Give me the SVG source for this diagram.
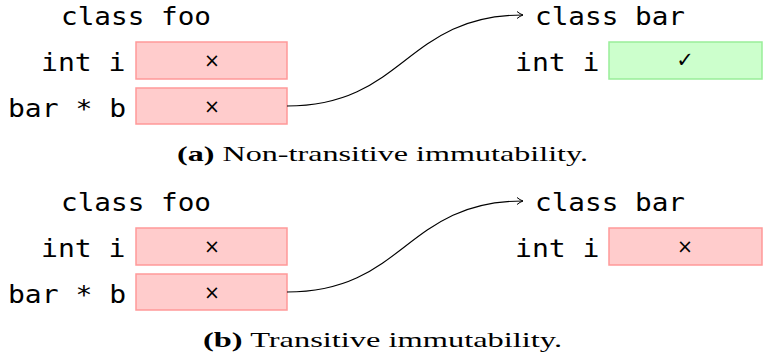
<svg xmlns="http://www.w3.org/2000/svg" width="764" height="364" viewBox="0 0 764 364">
<style>
.m{font-family:"DejaVu Sans Mono","Liberation Mono",monospace;font-size:24px;fill:#000}
.bad{fill:#ffcccc;stroke:#ff9999;stroke-width:1.5}
.ok{fill:#ccffcc;stroke:#99ee99;stroke-width:1.5}
.sym{font-family:"DejaVu Sans",sans-serif;font-size:19px;text-anchor:middle;fill:#000}
.chk{font-family:"DejaVu Sans",sans-serif;font-size:21px;text-anchor:middle;fill:#000}
.cap{font-family:"Liberation Serif","Times New Roman",serif;font-size:21px;fill:#000}
.conn{fill:none;stroke:#000;stroke-width:1.1}
</style>
<defs>
<marker id="ah" markerWidth="10" markerHeight="10" refX="7" refY="4" orient="auto" markerUnits="userSpaceOnUse">
<path d="M1,0.5 Q4,3 7,4 Q4,5 1,7.5" fill="none" stroke="#000" stroke-width="1"/>
</marker>
</defs>
<g id="panel-a">
<g id="a-foo">
<text class="m" x="61" y="25" textLength="150" lengthAdjust="spacingAndGlyphs">class foo</text>
<text class="m" x="41" y="71" textLength="84.5" lengthAdjust="spacingAndGlyphs">int i</text>
<rect class="bad" x="136" y="42" width="151" height="37"/>
<text class="sym" x="212" y="67">×</text>
<text class="m" x="8" y="117" textLength="118" lengthAdjust="spacingAndGlyphs">bar * b</text>
<rect class="bad" x="136" y="88" width="151" height="36"/>
<text class="sym" x="212" y="113">×</text>
</g>
<g id="a-bar">
<text class="m" x="535" y="25" textLength="150" lengthAdjust="spacingAndGlyphs">class bar</text>
<text class="m" x="515" y="71" textLength="84.5" lengthAdjust="spacingAndGlyphs">int i</text>
<rect class="ok" x="609" y="42" width="153" height="37"/>
<text class="chk" x="685" y="67">✓</text>
</g>
<text id="cap-a" class="cap" x="177" y="161" textLength="411" lengthAdjust="spacingAndGlyphs"><tspan font-weight="bold">(a)</tspan> Non-transitive immutability.</text>
</g>
<g id="panel-b">
<g id="b-foo">
<text class="m" x="61" y="211" textLength="150" lengthAdjust="spacingAndGlyphs">class foo</text>
<text class="m" x="41" y="257" textLength="84.5" lengthAdjust="spacingAndGlyphs">int i</text>
<rect class="bad" x="136" y="228" width="151" height="37"/>
<text class="sym" x="212" y="253">×</text>
<text class="m" x="8" y="303" textLength="118" lengthAdjust="spacingAndGlyphs">bar * b</text>
<rect class="bad" x="136" y="274" width="151" height="36"/>
<text class="sym" x="212" y="299">×</text>
</g>
<g id="b-bar">
<text class="m" x="535" y="211" textLength="150" lengthAdjust="spacingAndGlyphs">class bar</text>
<text class="m" x="515" y="257" textLength="84.5" lengthAdjust="spacingAndGlyphs">int i</text>
<rect class="bad" x="609" y="228" width="153" height="37"/>
<text class="sym" x="685" y="253">×</text>
</g>
<text id="cap-b" class="cap" x="203" y="347" textLength="359" lengthAdjust="spacingAndGlyphs"><tspan font-weight="bold">(b)</tspan> Transitive immutability.</text>
</g>
<g id="connectors">
<path class="conn" d="M287,106 C405,106 405,15 523,15" marker-end="url(#ah)"/>
<path class="conn" d="M287,292 C405,292 405,201 523,201" marker-end="url(#ah)"/>
</g>
</svg>
